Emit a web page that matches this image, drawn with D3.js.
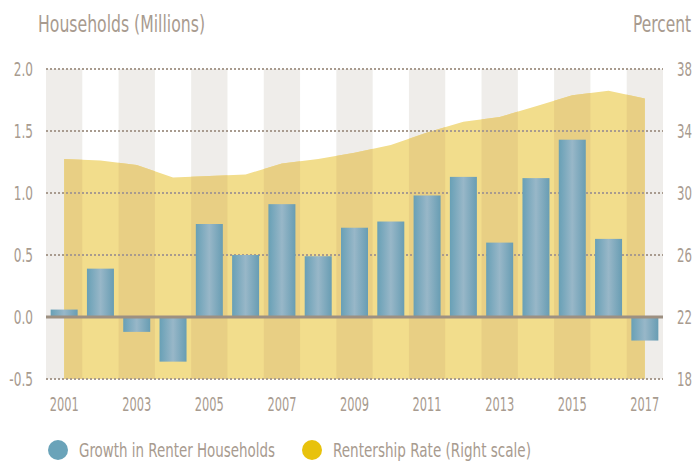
<!DOCTYPE html>
<html>
<head>
<meta charset="utf-8">
<script src="https://cdn.jsdelivr.net/npm/d3@7"></script>
<style>
body { margin: 0; background: #fff; }
text { font-family: "Liberation Sans Narrow", "DejaVu Sans Condensed", "Roboto", sans-serif; fill: #a89b8f; }
</style>
</head>
<body>
<div id="chart"></div>
<script>

var years = [2001, 2002, 2003, 2004, 2005, 2006, 2007, 2008, 2009, 2010, 2011, 2012, 2013, 2014, 2015, 2016, 2017];
var growth = [0.06, 0.39, -0.12, -0.36, 0.75, 0.50, 0.91, 0.49, 0.72, 0.77, 0.98, 1.13, 0.60, 1.12, 1.43, 0.63, -0.19];  // millions
var rentRate = [32.2, 32.1, 31.8, 31.0, 31.1, 31.2, 31.9, 32.2, 32.6, 33.1, 33.9, 34.6, 34.9, 35.6, 36.3, 36.6, 36.1];  // percent
var leftTicks = [-0.5, 0.0, 0.5, 1.0, 1.5, 2.0];
var rightTicks = [18, 22, 26, 30, 34, 38];
var yearLabels = [2001, 2003, 2005, 2007, 2009, 2011, 2013, 2015, 2017];

var width = 694,
height = 462,
plotL = 46,
plotR = 663,
plotT = 69,
plotB = 379;

var svg = d3.select("#chart").append("svg")
.attr("width", width)
.attr("height", height);

var x = d3.scaleBand().domain(years).range([plotL, plotR]).padding(0);
var y = d3.scaleLinear().domain([-0.5, 2.0]).range([plotB, plotT]);
var yR = d3.scaleLinear().domain([18, 38]).range([plotB, plotT]);

var barW = 27;

// gradient for the bars
var defs = svg.append("defs");
var grad = defs.append("linearGradient").attr("id", "barGrad")
.attr("x1", "0%").attr("x2", "100%").attr("y1", "0%").attr("y2", "0%");
grad.append("stop").attr("offset", "0%").attr("stop-color", "#68a0b6");
grad.append("stop").attr("offset", "50%").attr("stop-color", "#98b7c8");
grad.append("stop").attr("offset", "100%").attr("stop-color", "#689db3");

var greyYears = years.filter(function(d, i) { return i % 2 == 0; });

var clip = defs.append("clipPath").attr("id", "greyClip");
clip.selectAll("rect").data(greyYears).enter().append("rect")
.attr("x", function(d) { return x(d); })
.attr("y", plotT)
.attr("width", x.bandwidth())
.attr("height", plotB - plotT);

// background bands
svg.append("g").selectAll("rect").data(greyYears).enter().append("rect")
.attr("x", function(d) { return x(d); })
.attr("y", plotT)
.attr("width", x.bandwidth())
.attr("height", plotB - plotT)
.attr("fill", "#efedea");

// rentership area
var area = d3.area()
.x(function(d, i) { return x(years[i]) + x.bandwidth() / 2; })
.y0(yR(18))
.y1(function(d) { return yR(d); });

svg.append("path").datum(rentRate)
.attr("d", area)
.attr("fill", "#f2dd8c");

svg.append("path").datum(rentRate)
.attr("d", area)
.attr("clip-path", "url(#greyClip)")
.attr("fill", "#e8cf84");

// dotted grid
svg.append("g").selectAll("line").data(leftTicks.filter(function(d) { return d != 0; })).enter().append("line")
.attr("x1", plotL)
.attr("x2", plotR)
.attr("y1", function(d) { return y(d); })
.attr("y2", function(d) { return y(d); })
.attr("stroke", "#a89b8f")
.attr("stroke-width", 2)
.attr("stroke-dasharray", "2,2");

// bars
svg.append("g").selectAll("rect").data(growth).enter().append("rect")
.attr("x", function(d, i) { return x(years[i]) + (x.bandwidth() - barW) / 2; })
.attr("y", function(d) { return y(Math.max(0, d)); })
.attr("width", barW)
.attr("height", function(d) { return Math.abs(y(d) - y(0)); })
.attr("fill", "url(#barGrad)");

// zero line
svg.append("line")
.attr("x1", plotL)
.attr("x2", plotR)
.attr("y1", y(0))
.attr("y2", y(0))
.attr("stroke", "#9d9081")
.attr("stroke-width", 3);

// squeeze text to look like a condensed face
function squeeze(sel, k) {
	sel.each(function() {
		var len = this.getComputedTextLength();
		d3.select(this).attr("textLength", len * k).attr("lengthAdjust", "spacingAndGlyphs");
	});
}

// same idea, but with a transform so the box really shrinks (used near the right edge)
function scaleX(sel, k) {
	sel.each(function() {
		var t = d3.select(this);
		var tx = +t.attr("x"), ty = +t.attr("y");
		t.attr("x", 0).attr("y", 0)
		.attr("transform", "translate(" + tx + "," + ty + ") scale(" + k + ",1)");
	});
}

var tmp = svg.append("text").attr("font-size", 20).text("2001");
var k = 29 / tmp.node().getComputedTextLength();
tmp.remove();

// left ticks
var lt = svg.append("g").selectAll("text").data(leftTicks).enter().append("text")
.attr("x", 33)
.attr("y", function(d) { return y(d); })
.attr("dy", "0.36em")
.attr("text-anchor", "end")
.attr("font-size", 19)
.text(function(d) { return d3.format(".1f")(d).replace("−", "-"); });
squeeze(lt, k * 1.12);

// right ticks
var rt = svg.append("g").selectAll("text").data(rightTicks).enter().append("text")
.attr("x", 677)
.attr("y", function(d) { return yR(d); })
.attr("dy", "0.36em")
.attr("font-size", 19)
.text(function(d) { return d; });
scaleX(rt, 15 / rt.node().getComputedTextLength());

// year labels
var xt = svg.append("g").selectAll("text").data(yearLabels).enter().append("text")
.attr("x", function(d) { return x(d) + x.bandwidth() / 2; })
.attr("y", 411)
.attr("text-anchor", "middle")
.attr("font-size", 20)
.text(function(d) { return d; });
squeeze(xt, k);

// axis titles
svg.append("text")
.attr("x", 38)
.attr("y", 32)
.attr("font-size", 23)
.attr("textLength", 167)
.attr("lengthAdjust", "spacingAndGlyphs")
.text("Households (Millions)");

var pct = svg.append("text")
.attr("x", 633)
.attr("y", 32)
.attr("font-size", 23)
.text("Percent");
scaleX(pct, 58 / pct.node().getComputedTextLength());

// legend
var legend = [
	{label: "Growth in Renter Households", color: "#6aa3b9", cx: 58, tx: 79, w: 196},
	{label: "Rentership Rate (Right scale)", color: "#e8c20c", cx: 312, tx: 333, w: 198}
];

var lg = svg.append("g").selectAll("g").data(legend).enter().append("g");
lg.append("circle")
.attr("cx", function(d) { return d.cx; })
.attr("cy", 450)
.attr("r", 10)
.attr("fill", function(d) { return d.color; });
lg.append("text")
.attr("x", function(d) { return d.tx; })
.attr("y", 457)
.attr("font-size", 20)
.attr("textLength", function(d) { return d.w; })
.attr("lengthAdjust", "spacingAndGlyphs")
.text(function(d) { return d.label; });

</script>
</body>
</html>
